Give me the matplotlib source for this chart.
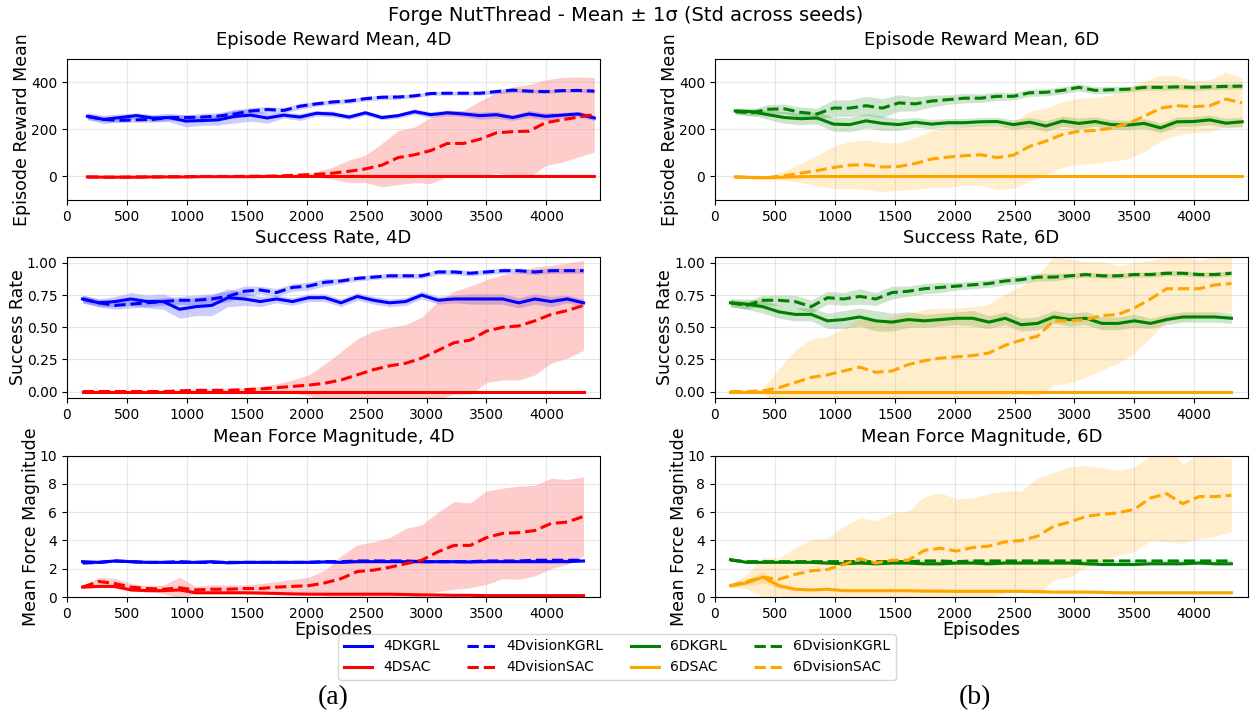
import numpy as np
import matplotlib
matplotlib.use("Agg")
import matplotlib.pyplot as plt

# evaluation episodes (reward row is logged slightly later than the others)
ep_reward = [170, 306, 443, 579, 716, 852, 989, 1125, 1262, 1398, 1535, 1671, 1808, 1944, 2081, 2217,
             2354, 2490, 2627, 2763, 2900, 3036, 3173, 3309, 3446, 3582, 3719, 3855, 3992, 4128, 4265, 4400]
ep_other = [130, 265, 400, 534, 669, 804, 939, 1074, 1208, 1343, 1478, 1613, 1748, 1882, 2017, 2152,
            2287, 2422, 2556, 2691, 2826, 2961, 3096, 3230, 3365, 3500, 3635, 3770, 3904, 4039, 4174, 4310]

# ---- episode reward mean ----
kgrl4_rew = [255, 242, 250, 258, 248, 250, 235, 237, 240, 255, 260, 248, 260, 252, 268, 265,
             252, 270, 250, 258, 275, 262, 270, 265, 258, 262, 250, 265, 255, 260, 265, 248]
kgrl4_rew_sd = [15, 18, 15, 12, 15, 18, 25, 20, 22, 28, 25, 22, 12, 15, 12, 12,
                10, 10, 10, 10, 12, 12, 12, 12, 15, 15, 12, 15, 15, 12, 12, 12]
vkgrl4_rew = [255, 242, 238, 240, 242, 250, 250, 252, 256, 265, 278, 284, 280, 298, 308, 316,
              320, 330, 336, 337, 342, 352, 353, 353, 353, 360, 366, 362, 360, 364, 365, 362]
vkgrl4_rew_sd = [12, 10, 10, 10, 12, 12, 12, 15, 15, 18, 15, 12, 12, 12, 10, 10,
                 10, 10, 10, 10, 8, 8, 8, 8, 8, 10, 10, 8, 8, 8, 8, 8]
sac4_rew = [-2, -3, -3, -3, -2, -2, -2, -1, -1, -1, -1, 0, 0, 0, 0, 0,
            0, 0, 0, 0, 0, 0, 0, 0, 0, 0, 0, 0, 0, 0, 0, 0]
sac4_rew_sd = [1] * 32
vsac4_rew = [-2, -3, -3, -2, -2, -1, -1, 0, 0, 0, 1, 1, 3, 6, 9, 14,
             22, 32, 48, 80, 92, 110, 140, 140, 158, 185, 190, 192, 228, 240, 252, 262]
vsac4_rew_sd = [1, 1, 1, 1, 1, 1, 1, 1, 1, 1, 1, 1, 2, 4, 11, 26,
                48, 58, 92, 115, 118, 140, 140, 140, 162, 170, 190, 198, 182, 180, 170, 158]

kgrl6_rew = [278, 275, 262, 250, 245, 248, 222, 220, 236, 225, 220, 230, 222, 228, 228, 232,
             233, 220, 230, 214, 235, 225, 233, 220, 218, 225, 206, 232, 233, 240, 226, 232]
kgrl6_rew_sd = [12, 15, 20, 25, 25, 25, 30, 30, 30, 30, 25, 20, 20, 18, 18, 18,
                18, 20, 22, 22, 22, 22, 20, 20, 20, 20, 20, 20, 20, 20, 20, 20]
vkgrl6_rew = [275, 270, 285, 287, 272, 265, 290, 290, 300, 290, 312, 308, 320, 326, 332, 332,
              340, 340, 355, 357, 365, 378, 365, 368, 370, 378, 378, 380, 378, 380, 382, 383]
vkgrl6_rew_sd = [12, 15, 20, 20, 22, 25, 35, 35, 40, 40, 35, 30, 25, 20, 20, 18,
                 18, 15, 15, 15, 15, 15, 15, 15, 12, 12, 12, 12, 12, 12, 12, 12]
sac6_rew = [-2, -4, -5, -3, -1, 0, 0, 0, 0, 0, 0, 0, 0, 0, 0, 0,
            0, 0, 0, 0, 0, 0, 0, 0, 0, 0, 0, 0, 0, 0, 0, 0]
sac6_rew_sd = [1] * 32
vsac6_rew = [-2, -5, -5, 3, 14, 25, 38, 48, 50, 40, 42, 55, 74, 82, 88, 92,
             80, 90, 128, 150, 178, 192, 195, 205, 225, 255, 290, 300, 296, 300, 328, 312]
vsac6_rew_sd = [2, 5, 8, 20, 40, 65, 90, 100, 105, 105, 100, 110, 120, 128, 125, 130,
                135, 140, 150, 140, 140, 140, 140, 140, 150, 150, 140, 125, 110, 110, 115, 105]

# ---- success rate ----
kgrl4_sr = [0.72, 0.69, 0.70, 0.72, 0.70, 0.70, 0.64, 0.66, 0.67, 0.73, 0.72, 0.70, 0.72, 0.70, 0.73, 0.73,
            0.69, 0.74, 0.71, 0.69, 0.70, 0.75, 0.71, 0.72, 0.72, 0.72, 0.72, 0.69, 0.72, 0.70, 0.72, 0.69]
kgrl4_sr_sd = [0.03, 0.03, 0.04, 0.05, 0.05, 0.06, 0.07, 0.07, 0.08, 0.07, 0.05, 0.04, 0.03, 0.03, 0.03, 0.03,
               0.03, 0.03, 0.03, 0.03, 0.03, 0.03, 0.03, 0.03, 0.04, 0.04, 0.04, 0.04, 0.04, 0.04, 0.03, 0.03]
vkgrl4_sr = [0.72, 0.69, 0.67, 0.68, 0.69, 0.70, 0.71, 0.71, 0.72, 0.74, 0.78, 0.79, 0.77, 0.81, 0.82, 0.85,
             0.86, 0.88, 0.89, 0.90, 0.90, 0.90, 0.93, 0.93, 0.92, 0.93, 0.94, 0.94, 0.93, 0.94, 0.94, 0.94]
vkgrl4_sr_sd = [0.03, 0.03, 0.03, 0.03, 0.03, 0.03, 0.03, 0.04, 0.04, 0.04, 0.04, 0.03, 0.03, 0.03, 0.03, 0.03,
                0.02, 0.02, 0.02, 0.02, 0.02, 0.02, 0.02, 0.02, 0.02, 0.02, 0.02, 0.02, 0.02, 0.02, 0.02, 0.02]
sac4_sr = [0.0] * 32
sac4_sr_sd = [0.0] * 32
vsac4_sr = [0, 0, 0, 0, 0, 0, 0.005, 0.01, 0.01, 0.01, 0.015, 0.02, 0.03, 0.04, 0.05, 0.065,
            0.09, 0.13, 0.17, 0.20, 0.22, 0.26, 0.32, 0.38, 0.40, 0.47, 0.50, 0.51, 0.55, 0.60, 0.63, 0.67]
vsac4_sr_sd = [0, 0, 0, 0, 0, 0, 0.005, 0.01, 0.01, 0.01, 0.015, 0.02, 0.03, 0.05, 0.08, 0.15,
               0.22, 0.28, 0.30, 0.30, 0.30, 0.32, 0.38, 0.40, 0.42, 0.40, 0.41, 0.42, 0.42, 0.38, 0.37, 0.35]

kgrl6_sr = [0.69, 0.68, 0.66, 0.62, 0.60, 0.60, 0.55, 0.56, 0.58, 0.55, 0.54, 0.56, 0.55, 0.56, 0.57, 0.57,
            0.54, 0.57, 0.52, 0.53, 0.58, 0.56, 0.57, 0.53, 0.53, 0.55, 0.53, 0.56, 0.58, 0.58, 0.58, 0.57]
kgrl6_sr_sd = [0.03, 0.04, 0.05, 0.05, 0.05, 0.05, 0.06, 0.07, 0.07, 0.08, 0.07, 0.06, 0.05, 0.05, 0.05, 0.06,
               0.05, 0.05, 0.05, 0.05, 0.05, 0.05, 0.05, 0.05, 0.05, 0.05, 0.04, 0.04, 0.04, 0.04, 0.04, 0.04]
vkgrl6_sr = [0.69, 0.67, 0.71, 0.71, 0.70, 0.66, 0.73, 0.72, 0.74, 0.72, 0.77, 0.78, 0.80, 0.81, 0.82, 0.83,
             0.84, 0.86, 0.87, 0.89, 0.89, 0.90, 0.91, 0.90, 0.90, 0.91, 0.91, 0.92, 0.92, 0.91, 0.91, 0.92]
vkgrl6_sr_sd = [0.03, 0.03, 0.04, 0.04, 0.05, 0.05, 0.05, 0.05, 0.06, 0.05, 0.05, 0.04, 0.04, 0.04, 0.03, 0.03,
                0.03, 0.03, 0.03, 0.03, 0.03, 0.02, 0.02, 0.02, 0.02, 0.02, 0.02, 0.02, 0.02, 0.02, 0.02, 0.02]
sac6_sr = [0.0] * 32
sac6_sr_sd = [0.0] * 32
vsac6_sr = [0, 0, 0.005, 0.03, 0.07, 0.11, 0.13, 0.16, 0.19, 0.15, 0.16, 0.21, 0.24, 0.26, 0.27, 0.28,
            0.30, 0.36, 0.40, 0.43, 0.55, 0.55, 0.56, 0.59, 0.60, 0.65, 0.72, 0.80, 0.80, 0.80, 0.83, 0.84]
vsac6_sr_sd = [0, 0, 0.02, 0.15, 0.25, 0.30, 0.30, 0.33, 0.38, 0.40, 0.42, 0.40, 0.40, 0.39, 0.38, 0.38,
               0.38, 0.40, 0.42, 0.47, 0.50, 0.48, 0.45, 0.42, 0.38, 0.35, 0.30, 0.25, 0.25, 0.22, 0.22, 0.22]

# ---- mean force magnitude ----
kgrl4_f = [2.5, 2.45, 2.55, 2.5, 2.45, 2.45, 2.45, 2.45, 2.5, 2.42, 2.45, 2.45, 2.45, 2.45, 2.45, 2.48,
           2.45, 2.5, 2.5, 2.5, 2.5, 2.5, 2.5, 2.5, 2.48, 2.5, 2.5, 2.5, 2.5, 2.5, 2.5, 2.55]
kgrl4_f_sd = [0.08] * 32
vkgrl4_f = [2.4, 2.45, 2.55, 2.5, 2.45, 2.45, 2.5, 2.45, 2.45, 2.45, 2.45, 2.45, 2.45, 2.45, 2.45, 2.5,
            2.5, 2.55, 2.55, 2.55, 2.55, 2.5, 2.5, 2.5, 2.5, 2.55, 2.55, 2.55, 2.6, 2.6, 2.6, 2.6]
vkgrl4_f_sd = [0.08] * 32
sac4_f = [0.7, 0.75, 0.75, 0.5, 0.45, 0.45, 0.5, 0.3, 0.3, 0.3, 0.3, 0.28, 0.25, 0.22, 0.2, 0.2,
          0.2, 0.2, 0.2, 0.2, 0.18, 0.15, 0.14, 0.12, 0.12, 0.1, 0.1, 0.1, 0.1, 0.1, 0.1, 0.1]
sac4_f_sd = [0.08] * 32
vsac4_f = [0.7, 1.1, 0.95, 0.7, 0.6, 0.55, 0.65, 0.5, 0.55, 0.55, 0.6, 0.6, 0.7, 0.75, 0.8, 1.0,
           1.3, 1.8, 1.9, 2.1, 2.35, 2.6, 3.2, 3.65, 3.65, 4.2, 4.5, 4.55, 4.7, 5.2, 5.3, 5.7]
vsac4_f_sd = [0.05, 0.3, 0.35, 0.25, 0.2, 0.3, 0.75, 0.25, 0.3, 0.3, 0.25, 0.35, 0.4, 0.5, 0.6, 0.9,
              1.6, 1.9, 2.0, 2.1, 2.5, 2.5, 2.8, 3.1, 3.0, 3.3, 3.2, 3.3, 3.2, 3.2, 3.0, 2.8]

kgrl6_f = [2.65, 2.45, 2.45, 2.45, 2.45, 2.45, 2.4, 2.35, 2.4, 2.35, 2.4, 2.4, 2.35, 2.35, 2.4, 2.4,
           2.35, 2.4, 2.4, 2.4, 2.4, 2.4, 2.35, 2.3, 2.3, 2.3, 2.35, 2.35, 2.35, 2.4, 2.35, 2.35]
kgrl6_f_sd = [0.08] * 32
vkgrl6_f = [2.6, 2.5, 2.5, 2.5, 2.5, 2.5, 2.5, 2.5, 2.5, 2.5, 2.5, 2.5, 2.55, 2.55, 2.5, 2.55,
            2.55, 2.55, 2.55, 2.55, 2.55, 2.55, 2.55, 2.55, 2.55, 2.55, 2.55, 2.55, 2.55, 2.55, 2.55, 2.55]
vkgrl6_f_sd = [0.06] * 32
sac6_f = [0.8, 1.0, 1.4, 0.8, 0.55, 0.5, 0.55, 0.45, 0.45, 0.45, 0.45, 0.45, 0.42, 0.42, 0.4, 0.4,
          0.4, 0.4, 0.4, 0.38, 0.35, 0.35, 0.35, 0.33, 0.3, 0.3, 0.3, 0.3, 0.3, 0.3, 0.3, 0.3]
sac6_f_sd = [0.1, 0.2, 0.4, 0.2, 0.1, 0.1, 0.1, 0.08, 0.08, 0.08, 0.08, 0.08, 0.08, 0.08, 0.08, 0.08,
             0.08, 0.08, 0.08, 0.08, 0.08, 0.08, 0.08, 0.08, 0.08, 0.08, 0.08, 0.08, 0.08, 0.08, 0.08, 0.08]
vsac6_f = [0.8, 1.1, 1.4, 1.25, 1.6, 1.85, 1.95, 2.3, 2.7, 2.4, 2.6, 2.6, 3.3, 3.45, 3.25, 3.5,
           3.6, 3.9, 4.0, 4.3, 5.0, 5.3, 5.7, 5.85, 5.95, 6.2, 7.0, 7.3, 6.6, 7.1, 7.1, 7.2]
vsac6_f_sd = [0.1, 0.5, 1.4, 1.5, 1.9, 2.2, 2.2, 2.7, 2.9, 3.0, 3.3, 3.5, 3.8, 3.9, 3.7, 3.5,
              3.7, 3.6, 3.5, 4.1, 3.8, 3.9, 3.6, 3.3, 3.0, 3.0, 3.0, 3.4, 2.8, 3.0, 2.8, 2.6]

series_4d = [
    ("4DKGRL", "blue", "-", [kgrl4_rew, kgrl4_sr, kgrl4_f], [kgrl4_rew_sd, kgrl4_sr_sd, kgrl4_f_sd]),
    ("4DvisionKGRL", "blue", "--", [vkgrl4_rew, vkgrl4_sr, vkgrl4_f], [vkgrl4_rew_sd, vkgrl4_sr_sd, vkgrl4_f_sd]),
    ("4DSAC", "red", "-", [sac4_rew, sac4_sr, sac4_f], [sac4_rew_sd, sac4_sr_sd, sac4_f_sd]),
    ("4DvisionSAC", "red", "--", [vsac4_rew, vsac4_sr, vsac4_f], [vsac4_rew_sd, vsac4_sr_sd, vsac4_f_sd]),
]
series_6d = [
    ("6DKGRL", "green", "-", [kgrl6_rew, kgrl6_sr, kgrl6_f], [kgrl6_rew_sd, kgrl6_sr_sd, kgrl6_f_sd]),
    ("6DvisionKGRL", "green", "--", [vkgrl6_rew, vkgrl6_sr, vkgrl6_f], [vkgrl6_rew_sd, vkgrl6_sr_sd, vkgrl6_f_sd]),
    ("6DSAC", "orange", "-", [sac6_rew, sac6_sr, sac6_f], [sac6_rew_sd, sac6_sr_sd, sac6_f_sd]),
    ("6DvisionSAC", "orange", "--", [vsac6_rew, vsac6_sr, vsac6_f], [vsac6_rew_sd, vsac6_sr_sd, vsac6_f_sd]),
]

metrics = ["Episode Reward Mean", "Success Rate", "Mean Force Magnitude"]
ylims = [(-100, 500), (-0.05, 1.05), (0, 10)]
xs = [ep_reward, ep_other, ep_other]

fig = plt.figure(figsize=(12.52, 7.18), dpi=100)

lefts = [0.0535, 0.571]
width = 0.4255
bottoms = [0.7214, 0.4457, 0.1685]
height = 0.197

handles = {}
for col, (dim, series) in enumerate([("4D", series_4d), ("6D", series_6d)]):
    for row in range(3):
        ax = fig.add_axes([lefts[col], bottoms[row], width, height])
        x = np.array(xs[row])
        for name, color, ls, means, sds in series:
            m = np.array(means[row])
            s = np.array(sds[row])
            line, = ax.plot(x, m, color=color, linestyle=ls, linewidth=2.2, label=name)
            ax.fill_between(x, m - s, m + s, color=color, alpha=0.2, linewidth=0)
            handles[name] = line
        ax.set_xlim(0, 4445)
        ax.set_ylim(*ylims[row])
        ax.set_title(f"{metrics[row]}, {dim}", fontsize=13, pad=10)
        ax.set_ylabel(metrics[row], fontsize=12.5, labelpad=0)
        ax.tick_params(labelsize=10)
        ax.grid(True, alpha=0.3)
        if row == 1:
            ax.set_yticks([0.0, 0.25, 0.5, 0.75, 1.0])
        if row == 2:
            ax.set_yticks([0, 2, 4, 6, 8, 10])
            ax.set_xlabel("Episodes", fontsize=12.5, labelpad=0)

order = ["4DKGRL", "4DSAC", "4DvisionKGRL", "4DvisionSAC",
         "6DKGRL", "6DSAC", "6DvisionKGRL", "6DvisionSAC"]
fig.legend([handles[n] for n in order], order, loc="center", ncol=4,
           bbox_to_anchor=(0.493, 0.085), fontsize=10, frameon=True)

fig.suptitle("Forge NutThread - Mean \u00b1 1\u03c3 (Std across seeds)", fontsize=14, y=0.992)

fig.text(0.266, 0.029, "(a)", fontsize=20, family="Liberation Serif", ha="center", va="center")
fig.text(0.779, 0.029, "(b)", fontsize=20, family="Liberation Serif", ha="center", va="center")

fig.savefig("out.png", dpi=100)
